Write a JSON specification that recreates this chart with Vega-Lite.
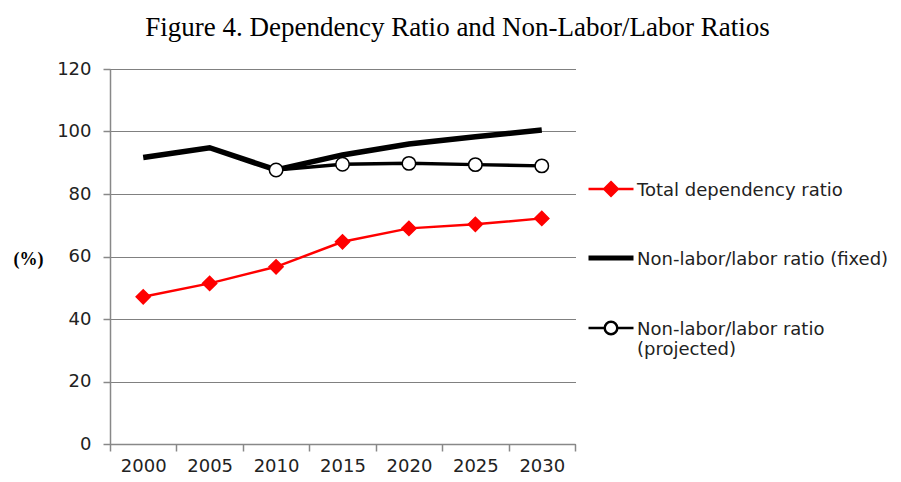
{
  "$schema": "https://vega.github.io/schema/vega-lite/v6.json",
  "autosize": "none",
  "width": 465,
  "height": 375,
  "padding": {"left": 110, "top": 69, "right": 326, "bottom": 38},
  "background": "white",
  "title": {
    "text": "Figure 4. Dependency Ratio and Non-Labor/Labor Ratios",
    "font": "Liberation Serif",
    "fontSize": 27,
    "fontWeight": "normal",
    "color": "black",
    "anchor": "middle",
    "dx": 115,
    "offset": 18
  },
  "config": {
    "view": {"stroke": null},
    "axis": {
      "labelFont": "DejaVu Sans",
      "labelFontSize": 18,
      "labelColor": "#222",
      "domainColor": "#888",
      "domainWidth": 1.5,
      "tickColor": "#888",
      "tickWidth": 1.5,
      "tickSize": 7
    }
  },
  "data": {
    "values": [
      {"year": "2000", "series": "Total dependency ratio", "value": 47.1},
      {"year": "2005", "series": "Total dependency ratio", "value": 51.4},
      {"year": "2010", "series": "Total dependency ratio", "value": 56.7},
      {"year": "2015", "series": "Total dependency ratio", "value": 64.7},
      {"year": "2020", "series": "Total dependency ratio", "value": 69.0},
      {"year": "2025", "series": "Total dependency ratio", "value": 70.3},
      {"year": "2030", "series": "Total dependency ratio", "value": 72.2},
      {"year": "2000", "series": "Non-labor/labor ratio (fixed)", "value": 91.7},
      {"year": "2005", "series": "Non-labor/labor ratio (fixed)", "value": 94.8},
      {"year": "2010", "series": "Non-labor/labor ratio (fixed)", "value": 87.7},
      {"year": "2015", "series": "Non-labor/labor ratio (fixed)", "value": 92.5},
      {"year": "2020", "series": "Non-labor/labor ratio (fixed)", "value": 96.0},
      {"year": "2025", "series": "Non-labor/labor ratio (fixed)", "value": 98.3},
      {"year": "2030", "series": "Non-labor/labor ratio (fixed)", "value": 100.5},
      {"year": "2010", "series": "Non-labor/labor ratio (projected)", "value": 87.7},
      {"year": "2015", "series": "Non-labor/labor ratio (projected)", "value": 89.5},
      {"year": "2020", "series": "Non-labor/labor ratio (projected)", "value": 89.8},
      {"year": "2025", "series": "Non-labor/labor ratio (projected)", "value": 89.4},
      {"year": "2030", "series": "Non-labor/labor ratio (projected)", "value": 89.0}
    ]
  },
  "encoding": {
    "x": {
      "field": "year",
      "type": "ordinal",
      "bandPosition": 0.5,
      "scale": {"type": "band", "paddingInner": 0, "paddingOuter": 0},
      "axis": {"title": null, "labelAngle": 0, "tickBand": "extent", "grid": false, "labelPadding": 6}
    },
    "y": {
      "field": "value",
      "type": "quantitative",
      "scale": {"domain": [0, 120], "nice": false},
      "axis": {
        "values": [0, 20, 40, 60, 80, 100, 120],
        "grid": true,
        "gridColor": "#000",
        "gridDash": [1, 1],
        "gridWidth": 1,
        "labelPadding": 12,
        "title": "(%)",
        "titleFont": "Liberation Serif",
        "titleFontSize": 18,
        "titleFontWeight": "bold",
        "titleColor": "black",
        "titleAngle": 0,
        "titleAlign": "center",
        "titleBaseline": "middle",
        "titleX": -82,
        "titleY": 190
      }
    }
  },
  "layer": [
    {
      "mark": {"type": "line"},
      "encoding": {
        "color": {
          "field": "series",
          "type": "nominal",
          "scale": {
            "domain": ["Total dependency ratio", "Non-labor/labor ratio (fixed)", "Non-labor/labor ratio (projected)"],
            "range": ["#ff0000", "#000000", "#000000"]
          },
          "legend": {
            "title": null,
            "orient": "none",
            "legendX": 492,
            "legendY": 111,
            "padding": 0,
            "symbolSize": 2025,
            "rowPadding": 47,
            "labelOffset": 17,
            "labelFont": "DejaVu Sans",
            "labelFontSize": 18,
            "labelColor": "#222",
            "labelLimit": 400,
            "labelBaseline": "alphabetic",
            "labelExpr": "datum.label == 'Non-labor/labor ratio (projected)' ? ['Non-labor/labor ratio', '(projected)'] : datum.label",
            "encode": {
              "labels": {"update": {"dy": {"value": 6.5}}},
              "symbols": {
                "update": {
                  "size": {"value": 2025},
                  "shape": {"signal": "datum.value == 'Total dependency ratio' ? 'M-1,0H1M0,-0.3L0.3,0L0,0.3L-0.3,0Z' : datum.value == 'Non-labor/labor ratio (fixed)' ? 'M-1,0H1' : 'M-1,0H-0.28M0.28,0H1M-0.28,0A0.28,0.28 0 1 1 0.28,0A0.28,0.28 0 1 1 -0.28,0Z'"},
                  "fill": {"signal": "datum.value == 'Total dependency ratio' ? '#ff0000' : 'white'"},
                  "fillOpacity": {"value": 1},
                  "strokeWidth": {"signal": "datum.value == 'Total dependency ratio' ? 2.5 : datum.value == 'Non-labor/labor ratio (fixed)' ? 5 : 2.5"}
                }
              }
            }
          }
        },
        "strokeWidth": {
          "field": "series",
          "type": "nominal",
          "scale": {
            "type": "ordinal",
            "domain": ["Total dependency ratio", "Non-labor/labor ratio (fixed)", "Non-labor/labor ratio (projected)"],
            "range": [2.5, 5.5, 3.5]
          },
          "legend": null
        }
      }
    },
    {
      "transform": [{"filter": "datum.series != 'Non-labor/labor ratio (fixed)'"}],
      "mark": {"type": "point", "filled": true, "opacity": 1},
      "encoding": {
        "shape": {
          "field": "series",
          "type": "nominal",
          "scale": {"domain": ["Total dependency ratio", "Non-labor/labor ratio (projected)"], "range": ["diamond", "circle"]},
          "legend": null
        },
        "fill": {
          "field": "series",
          "type": "nominal",
          "scale": {"domain": ["Total dependency ratio", "Non-labor/labor ratio (projected)"], "range": ["#ff0000", "#ffffff"]},
          "legend": null
        },
        "stroke": {
          "field": "series",
          "type": "nominal",
          "scale": {"domain": ["Total dependency ratio", "Non-labor/labor ratio (projected)"], "range": ["#ff0000", "#000000"]},
          "legend": null
        },
        "size": {
          "field": "series",
          "type": "nominal",
          "scale": {"type": "ordinal", "domain": ["Total dependency ratio", "Non-labor/labor ratio (projected)"], "range": [200, 180]},
          "legend": null
        },
        "strokeWidth": {"value": 1.5}
      }
    }
  ],
  "resolve": {"scale": {"strokeWidth": "independent"}}
}
